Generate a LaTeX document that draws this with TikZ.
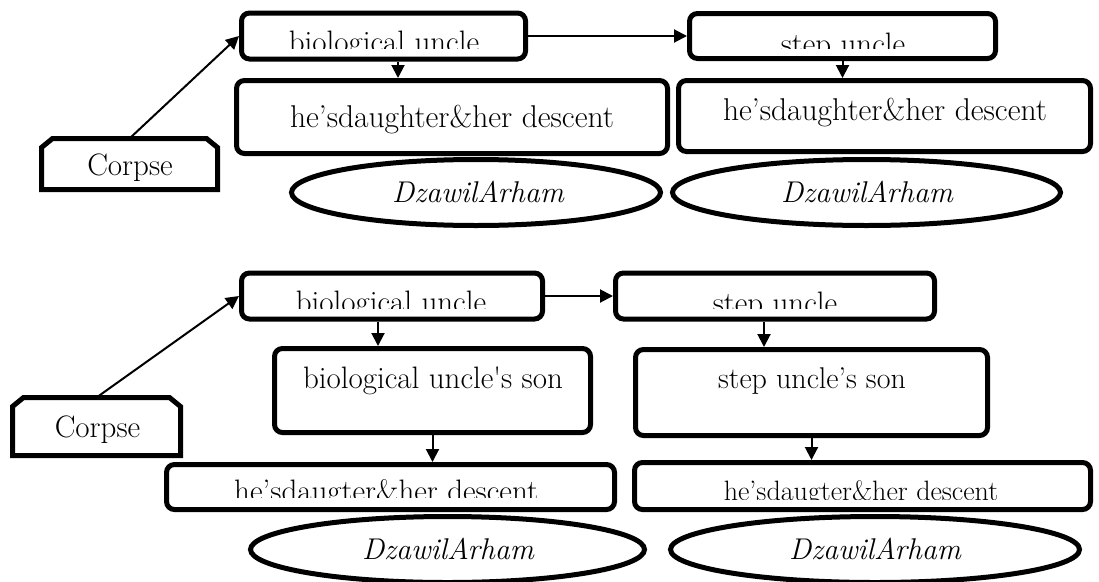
\documentclass[tikz,border=0pt]{standalone}
\usetikzlibrary{arrows.meta,shapes.geometric,calc}
\begin{document}
\begin{tikzpicture}[x=1pt,y=-1pt,
  bx/.style={draw, line width=5pt, rounded corners=8pt, inner sep=0pt},
  ell/.style={draw, ellipse, line width=5pt, inner sep=0pt},
  anc/.style={inner sep=0pt, outer sep=0pt},
  lbl/.style={anchor=base, inner sep=0pt, font=\fontsize{31}{35}\selectfont},
  ital/.style={lbl, font=\fontsize{30}{34}\selectfont\itshape},
  arr/.style={line width=2pt, -{Triangle[length=13pt,width=13pt]}},
  chline/.style={line width=5pt, line join=miter}
]
\useasboundingbox (0,0) rectangle (1099,581);

% ---------- upper chart ----------
\node[anc, minimum width=176pt, minimum height=51pt] (c1) at (129.5,164) {};
\draw[chline] (c1.south west) -- ($(c1.north west)+(0,9)$) -- ($(c1.north west)+(11,0)$)
  -- ($(c1.north east)+(-11,0)$) -- ($(c1.north east)+(0,9)$) -- (c1.south east) -- cycle;
\node[lbl] (c1t) at (130,175) {Corpse};

\node[bx, minimum width=284pt, minimum height=46pt] (bu1) at (383.5,36) {};
\node[bx, minimum width=306pt, minimum height=45pt] (su1) at (842.5,36) {};
\node[bx, minimum width=431pt, minimum height=73pt] (hd1) at (452,117) {};
\node[bx, minimum width=412pt, minimum height=71pt] (hd2) at (884.5,116) {};

\begin{scope}
  \clip (239,0) rectangle (528,48);
  \node[lbl] (bu1t) at (384,52) {biological uncle};
\end{scope}
\begin{scope}
  \clip (687,0) rectangle (998,48);
  \node[lbl] (su1t) at (843,54) {step uncle};
\end{scope}
\node[lbl, font=\fontsize{31.5}{35}\selectfont] (hd1t) at (452,127) {he’sdaughter\&her descent};
\node[lbl, font=\fontsize{31.5}{35}\selectfont] (hd2t) at (885,120) {he’sdaughter\&her descent};

\node[ell, minimum width=369pt, minimum height=66pt] (e1) at (476,192.5) {};
\node[ell, minimum width=388pt, minimum height=66pt] (e2) at (866.5,192.5) {};
\node[ital] (e1t) at (478,202) {DzawilArham};
\node[ital] (e2t) at (867,202) {DzawilArham};

\coordinate (a1) at ([xshift=14.5pt]bu1.south);
\draw[arr] (c1.north) -- (bu1.west);
\draw[arr] (bu1.east) -- (su1.west);
\draw[arr] (a1) -- (a1 |- hd1.north);
\draw[arr] (su1.south) -- (su1.south |- hd2.north);

% ---------- lower chart ----------
\node[anc, minimum width=168pt, minimum height=58pt] (c2) at (96.5,426.5) {};
\draw[chline] (c2.south west) -- ($(c2.north west)+(0,9)$) -- ($(c2.north west)+(11,0)$)
  -- ($(c2.north east)+(-11,0)$) -- ($(c2.north east)+(0,9)$) -- (c2.south east) -- cycle;
\node[lbl] (c2t) at (97.5,437) {Corpse};

\node[bx, minimum width=301pt, minimum height=46pt] (bu2) at (392,296) {};
\node[bx, minimum width=319pt, minimum height=46pt] (su2) at (775,296) {};
\node[bx, minimum width=316pt, minimum height=84pt] (bs2) at (432.5,390.5) {};
\node[bx, minimum width=352pt, minimum height=86pt] (ss2) at (811.5,392.5) {};
\node[bx, minimum width=448pt, minimum height=45pt] (hdb1) at (390.5,487) {};
\node[bx, minimum width=456pt, minimum height=47pt] (hdb2) at (862.5,486) {};

\begin{scope}
  \clip (239,260) rectangle (545,308);
  \node[lbl] (bu2t) at (391,312) {biological uncle};
\end{scope}
\begin{scope}
  \clip (613,260) rectangle (937,308);
  \node[lbl] (su2t) at (775,313) {step uncle};
\end{scope}
\node[lbl] (bs2t) at (433,388) {biological uncle\textquotesingle s son};
\node[lbl, font=\fontsize{30}{34}\selectfont] (ss2t) at (812,388) {step uncle’s son};
\begin{scope}
  \clip (164,460) rectangle (617,497);
  \node[lbl] (hdb1t) at (390,501) {he’sdaugter\&her descent.};
\end{scope}
\begin{scope}
  \clip (632,460) rectangle (1093,499);
  \node[lbl, font=\fontsize{28}{32}\selectfont] (hdb2t) at (861,500) {he’sdaugter\&her descent};
\end{scope}

\node[ell, minimum width=394pt, minimum height=66pt] (e3) at (447.5,549.5) {};
\node[ell, minimum width=409pt, minimum height=66pt] (e4) at (875,549.5) {};
\node[ital] (e3t) at (448,559) {DzawilArham};
\node[ital] (e4t) at (875,559) {DzawilArham};

\coordinate (a2) at ([xshift=-14pt]bu2.south);
\coordinate (a3) at ([xshift=-11pt]su2.south);
\draw[arr] (c2.north) -- (bu2.west);
\draw[arr] (bu2.east) -- (su2.west);
\draw[arr] (a2) -- (a2 |- bs2.north);
\draw[arr] (a3) -- (a3 |- ss2.north);
\draw[arr] (bs2.south) -- (bs2.south |- hdb1.north);
\draw[arr] (ss2.south) -- (ss2.south |- hdb2.north);
\end{tikzpicture}
\end{document}
